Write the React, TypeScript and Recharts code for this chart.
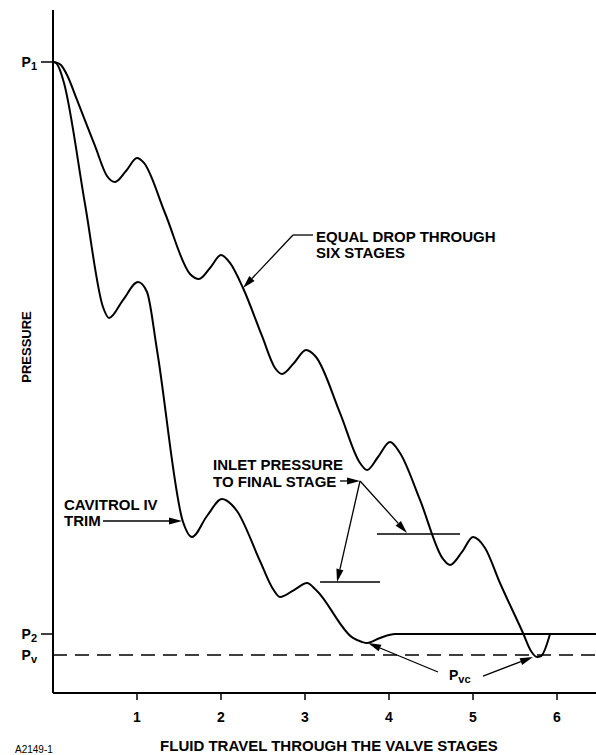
import { LineChart, Line, XAxis, YAxis, ReferenceLine, Customized } from "recharts";

// Pressure profile through a multi-stage valve trim. x = distance travelled in
// stages, p = pressure in % of inlet pressure P1 (axis bottom = 0).

const FONT = '"Liberation Sans", Arial, Helvetica, sans-serif';

const STAGE_TICKS = [1, 2, 3, 4, 5, 6];
const X_MAX = 6.464;
const P_MAX = 108.24;

const P1 = 100;
const P2 = 9.35;
const PV = 6.02;
const PRESSURE_TICKS = [PV, P2, P1];
const PRESSURE_SUBS = ["v", "2", "1"];

const equalDropX = [
  0, 0.036, 0.095, 0.167, 0.286, 0.5, 0.643, 0.738, 0.869, 1.0, 1.083, 1.333,
  1.631, 1.738, 1.869, 2.0, 2.107, 2.262, 2.488, 2.643, 2.726, 2.869, 3.012,
  3.131, 3.417, 3.655, 3.738, 3.869, 4.012, 4.131, 4.369, 4.643, 4.726, 4.869,
  5.0, 5.143, 5.321, 5.595, 5.69, 5.762, 5.81, 5.917,
];
const equalDropP = [
  100, 99.94, 99.52, 97.94, 93.98, 86.69, 81.93, 80.98, 82.73, 84.79, 84.0,
  76.07, 66.41, 65.61, 67.35, 69.41, 68.15, 64.18, 56.58, 51.51, 50.55, 52.3,
  54.36, 53.25, 44.37, 36.45, 35.34, 37.4, 39.78, 38.03, 30.59, 21.24, 20.29,
  22.35, 24.72, 22.98, 17.43, 9.51, 6.66, 5.71, 5.86, 9.35,
];

const cavitrolX = [
  0, 0.036, 0.083, 0.131, 0.381, 0.595, 0.667, 0.833, 1.012, 1.119, 1.238,
  1.548, 1.655, 1.833, 2.012, 2.131, 2.19, 2.464, 2.619, 2.702, 2.869, 3.024,
  3.131, 3.571, 3.679, 3.738, 3.893, 4.071, 6.464,
];
const cavitrolP = [
  100, 99.84, 98.73, 96.67, 77.5, 61.17, 59.43, 62.28, 65.13, 63.55, 54.36,
  27.1, 24.72, 28.05, 30.74, 29.79, 28.84, 20.92, 16.48, 15.21, 16.32, 17.43,
  16.32, 8.72, 8.08, 7.92, 8.72, 9.35, 9.35,
];

// inlet pressure to the final stage, one short bar per curve
const inletUpperX = [3.857, 4.845];
const inletUpperP = 25.2;
const inletLowerX = [3.179, 3.893];
const inletLowerP = 17.59;

// annotation leaders [x, p]
const equalDropLeader = [[3.095, 72.58], [2.857, 72.58], [2.262, 64.18]];
const inletStem = [[3.417, 33.6], [3.655, 33.6]];
const inletTips = [[4.214, 25.36], [3.381, 17.59]];
const cavitrolLeader = [[0.595, 27.26], [1.536, 27.26]];
const pvcTails = [[4.583, 3.33], [5.119, 2.69]];
const pvcTips = [[3.75, 7.92], [5.714, 5.71]];

const equalDrop = equalDropX.map((x, i) => ({ x, p: equalDropP[i] }));
const cavitrol = cavitrolX.map((x, i) => ({ x, p: cavitrolP[i] }));

const plainShape = (s: any) => (
  <line x1={s.x1} y1={s.y1} x2={s.x2} y2={s.y2} stroke="#000" strokeWidth={1.3} />
);

const arrowShape = (s: any) => {
  const { x1, y1, x2, y2 } = s;
  const a = Math.atan2(y2 - y1, x2 - x1);
  const len = 13;
  const half = 3.6;
  const bx = x2 - len * Math.cos(a);
  const by = y2 - len * Math.sin(a);
  const nx = -Math.sin(a) * half;
  const ny = Math.cos(a) * half;
  return (
    <g>
      <line x1={x1} y1={y1} x2={bx} y2={by} stroke="#000" strokeWidth={1.3} />
      <polygon points={`${x2},${y2} ${bx + nx},${by + ny} ${bx - nx},${by - ny}`} fill="#000" />
    </g>
  );
};

function seg(key: string, a: number[], b: number[], arrow: boolean) {
  return (
    <ReferenceLine
      key={key}
      segment={[{ x: a[0], y: a[1] }, { x: b[0], y: b[1] }]}
      shape={arrow ? arrowShape : plainShape}
    />
  );
}

function leader(key: string, pts: number[][]) {
  return pts.slice(1).map((b, i) => seg(`${key}-${i}`, pts[i], b, i === pts.length - 2));
}

function PressureTick(props: any) {
  const { x, y, payload } = props;
  const i = PRESSURE_TICKS.indexOf(payload.value);
  const sub = PRESSURE_SUBS[i];
  return (
    <g>
      {sub !== "v" && <line x1={x - 12} x2={x} y1={y} y2={y} stroke="#000" strokeWidth={1.5} />}
      <text x={x - 16} y={y + 5} textAnchor="end" fill="#000" fontWeight={700} fontSize={14} fontFamily={FONT}>
        P
        <tspan fontSize={11} dy={3}>{sub}</tspan>
      </text>
    </g>
  );
}

function Annotations() {
  const t = { fill: "#000", fontWeight: 700, fontSize: 15, fontFamily: FONT } as const;
  return (
    <g>
      <text x={316} y={242} {...t}>EQUAL DROP THROUGH</text>
      <text x={316} y={258} {...t}>SIX STAGES</text>
      <text x={213} y={470} {...t}>INLET PRESSURE</text>
      <text x={213} y={487} {...t}>TO FINAL STAGE</text>
      <text x={64} y={510} {...t}>CAVITROL IV</text>
      <text x={64} y={526} {...t}>TRIM</text>
      <text x={449} y={680} fill="#000" fontWeight={700} fontSize={14} fontFamily={FONT}>
        P<tspan fontSize={11} dy={3}>vc</tspan>
      </text>
      <text x={329} y={751} textAnchor="middle" {...t}>FLUID TRAVEL THROUGH THE VALVE STAGES</text>
      <text x={26} y={347} textAnchor="middle" transform="rotate(-90 26 347)" dominantBaseline="central" fill="#000" fontWeight={700} fontSize={13} fontFamily={FONT}>
        PRESSURE
      </text>
      <text x={15} y={753} fill="#000" fontSize={10} fontFamily={FONT}>A2149-1</text>
    </g>
  );
}

export default function App() {
  return (
    <div style={{ position: "absolute", left: 0, top: 0, background: "#fff" }}>
      <LineChart width={596} height={755} margin={{ top: 10, right: 0, bottom: 0, left: 0 }} style={{ fontFamily: FONT }}>
        <XAxis
          type="number"
          dataKey="x"
          domain={[0, X_MAX]}
          ticks={STAGE_TICKS}
          interval={0}
          allowDataOverflow
          height={62}
          axisLine={{ stroke: "#000", strokeWidth: 2 }}
          tickLine={{ stroke: "#000", strokeWidth: 1.5 }}
          tickSize={7}
          tickMargin={12}
          tick={{ fill: "#000", fontSize: 14, fontWeight: 700, fontFamily: FONT }}
        />
        <YAxis
          type="number"
          dataKey="p"
          domain={[0, P_MAX]}
          ticks={PRESSURE_TICKS}
          interval={0}
          allowDataOverflow
          width={53}
          axisLine={{ stroke: "#000", strokeWidth: 2 }}
          tickLine={false}
          tickSize={0}
          tickMargin={0}
          tick={<PressureTick />}
        />
        <ReferenceLine y={PV} stroke="#000" strokeWidth={1.5} strokeDasharray="14 8" />
        <ReferenceLine
          segment={[{ x: inletUpperX[0], y: inletUpperP }, { x: inletUpperX[1], y: inletUpperP }]}
          stroke="#000"
          strokeWidth={1.3}
        />
        <ReferenceLine
          segment={[{ x: inletLowerX[0], y: inletLowerP }, { x: inletLowerX[1], y: inletLowerP }]}
          stroke="#000"
          strokeWidth={1.3}
        />
        <Line data={equalDrop} dataKey="p" type="monotone" stroke="#000" strokeWidth={2} dot={false} activeDot={false} isAnimationActive={false} />
        <Line data={cavitrol} dataKey="p" type="monotone" stroke="#000" strokeWidth={2} dot={false} activeDot={false} isAnimationActive={false} />
        {leader("eq", equalDropLeader)}
        {leader("inlet", inletStem)}
        {inletTips.map((tip, i) => seg(`inlet-tip-${i}`, inletStem[1], tip, true))}
        {leader("cav", cavitrolLeader)}
        {pvcTails.map((tail, i) => seg(`pvc-${i}`, tail, pvcTips[i], true))}
        <Customized component={Annotations} />
      </LineChart>
    </div>
  );
}
